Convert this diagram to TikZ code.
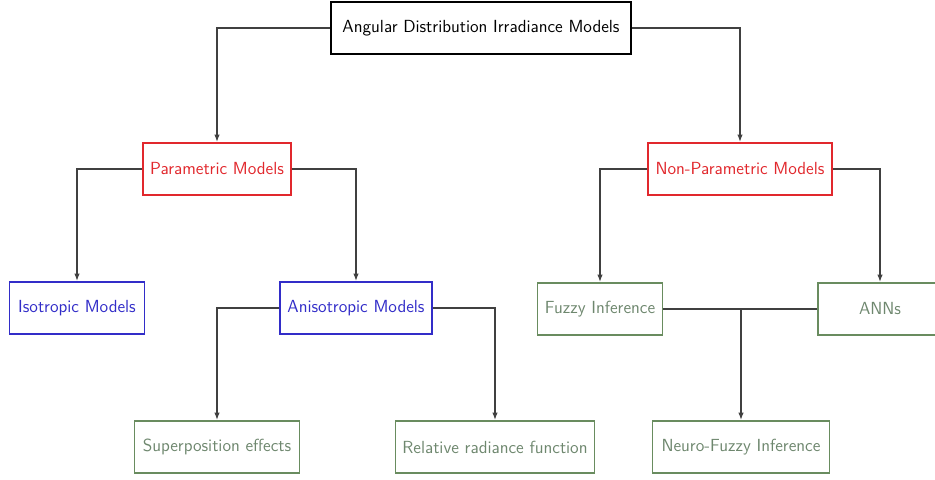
\documentclass[tikz,border=0pt]{standalone}
\usepackage{tikz}
\usetikzlibrary{shapes,arrows.meta,positioning}
\definecolor{parred}{RGB}{225,40,45}
\definecolor{isoblue}{RGB}{50,45,200}
\definecolor{leafgreen}{RGB}{105,140,95}
\definecolor{leaftext}{RGB}{110,135,110}

\begin{document}
\begin{tikzpicture}[x=0.662pt,y=-0.662pt,font=\sffamily\fontsize{11.6}{13}\selectfont,
    box/.style={draw,rectangle,line width=1.1pt,minimum height=34.4pt,inner xsep=1pt},
    rootbox/.style={box,draw=black},
    classbox/.style={box,draw=parred,text=parred},
    subbox/.style={box,draw=isoblue,text=isoblue},
    leafbox/.style={box,draw=leafgreen,text=leaftext,line width=1pt},
    link/.style={-{Latex[length=5pt,width=3.6pt]},line width=1pt,black!75}]
    \useasboundingbox (0,0) rectangle (935,480);

    % Root
    \node[rootbox,minimum width=198.6pt] (root) at (481,28) {Angular Distribution Irradiance Models};

    % Classes
    \node[classbox,minimum width=98pt] (param) at (217,169) {Parametric Models};
    \node[classbox,minimum width=121.8pt] (nonparam) at (740,169) {Non-Parametric Models};

    % Sub models
    \node[subbox,minimum width=89.4pt] (iso) at (77,308) {Isotropic Models};
    \node[subbox,minimum width=100.6pt] (aniso) at (356,308) {Anisotropic Models};
    \node[leafbox,minimum width=82.8pt] (fuzzy) at (600,309) {Fuzzy Inference};
    \node[leafbox,minimum width=82pt] (anns) at (880,309) {ANNs};

    % Leaves
    \node[leafbox,minimum width=109pt] (superpos) at (217,447) {Superposition effects};
    \node[leafbox,minimum width=131.7pt] (relrad) at (495,447) {Relative radiance function};
    \node[leafbox,minimum width=117pt] (neuro) at (741,447) {Neuro-Fuzzy Inference};

    % Arrows
    \draw[link] (root.west) -| (param.north);
    \draw[link] (root.east) -| (nonparam.north);
    \draw[link] (param.west) -| (iso.north);
    \draw[link] (param.east) -| (aniso.north);
    \draw[link] (nonparam.west) -| (fuzzy.north);
    \draw[link] (nonparam.east) -| (anns.north);
    \draw[link] (aniso.west) -| (superpos.north);
    \draw[link] (aniso.east) -| (relrad.north);
    \draw[line width=1pt,black!75] (fuzzy.east) -- (anns.west);
    \draw[link] (fuzzy.east -| neuro.north) -- (neuro.north);
\end{tikzpicture}
\end{document}
